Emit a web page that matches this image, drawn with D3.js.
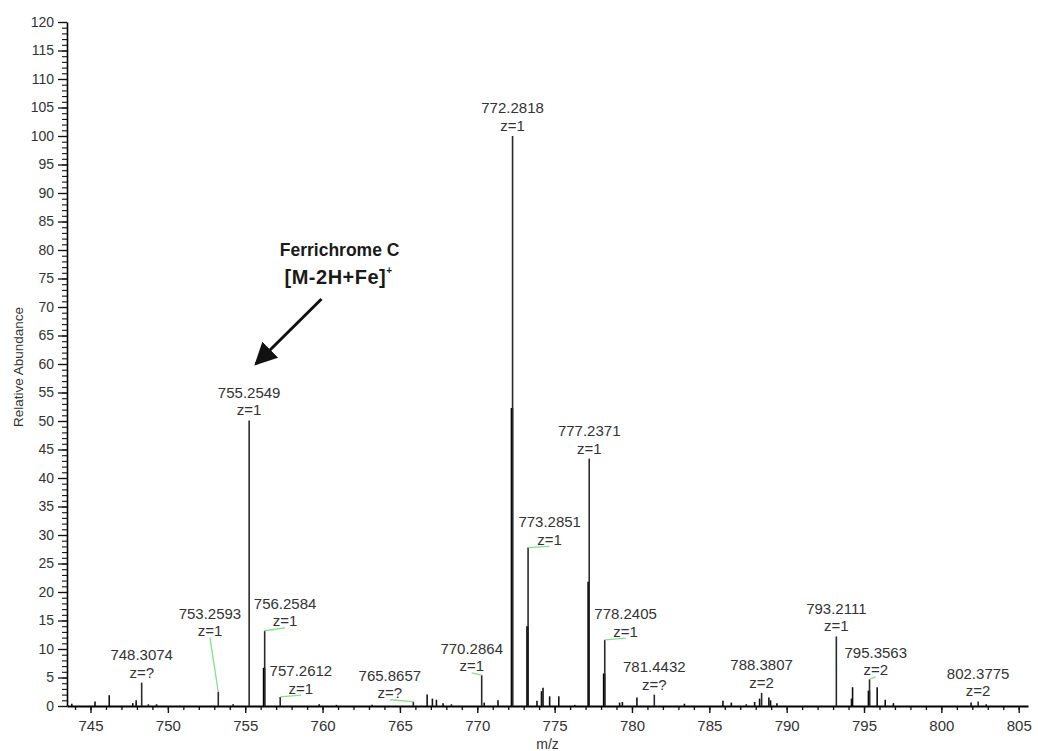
<!DOCTYPE html>
<html>
<head>
<meta charset="utf-8">
<script src="https://cdn.jsdelivr.net/npm/d3@7/dist/d3.min.js"></script>
<style>
  html, body { margin: 0; padding: 0; background: #fff; }
  svg { display: block; font-family: "Liberation Sans", Arial, sans-serif; }
</style>
</head>
<body>
<svg id="chart" width="1038" height="751"></svg>
<script>
// Annotated centroid peaks: m/z, relative abundance, charge label
const annMz = [748.3074, 753.2593, 755.2549, 756.2584, 757.2612, 765.8657, 770.2864, 772.2818,
               773.2851, 777.2371, 778.2405, 781.4432, 788.3807, 793.2111, 795.3563, 802.3775];
const annAb = [4.1, 2.5, 50.1, 13.2, 1.6, 0.75, 5.4, 100, 27.8, 43.4, 11.6, 2.0, 2.3, 12.2, 4.7, 0.8];
const annZ  = ["z=?", "z=1", "z=1", "z=1", "z=1", "z=?", "z=1", "z=1",
               "z=1", "z=1", "z=1", "z=?", "z=2", "z=1", "z=2", "z=2"];
// Second (half-height) trace drawn under some of the annotated peaks
const annShoulder = [0, 0, 0, 6.7, 0, 0, 0, 52.3, 14, 21.8, 5.7, 0, 0, 0, 2.7, 0];
// Labels moved off their peak (null = label sits right above the peak)
const labelMz = [null, 752.72, null, 757.58, 758.60, 764.35, 769.64, null,
                 774.68, null, 779.59, null, null, null, 795.76, null];
const labelAb = [null, 12.0, null, 13.7, 1.9, 1.1, 5.8, null,
                 28.0, null, 11.9, null, null, null, 5.1, null];

// Unlabelled minor peaks
const minorMz = [743.79, 745.29, 746.21, 747.73, 747.95, 748.74, 749.27, 754.22, 759.78, 760.90,
                 763.20, 766.76, 767.10, 767.36, 767.79, 768.33, 770.45, 771.34, 773.86, 774.15,
                 774.25, 774.68, 775.27, 776.30, 779.20, 779.38, 780.32, 783.39, 785.88, 786.42,
                 787.39, 787.93, 788.25, 788.85, 788.96, 789.37, 794.19, 794.26, 795.85, 796.37,
                 796.90, 801.92, 802.90];
const minorAb = [0.4, 0.8, 1.9, 0.5, 1.0, 0.3, 0.3, 0.3, 0.3, 0.2,
                 0.2, 2.0, 1.3, 1.1, 0.5, 0.3, 0.6, 1.0, 0.9, 2.6,
                 3.2, 1.7, 1.7, 0.2, 0.6, 0.7, 1.5, 0.4, 0.9, 0.6,
                 0.3, 0.7, 1.3, 1.5, 1.0, 0.5, 1.3, 3.3, 3.3, 1.1,
                 0.5, 0.6, 0.3];

// Axis ticks
const xMajorTicks = [745, 750, 755, 760, 765, 770, 775, 780, 785, 790, 795, 800, 805];
const yMajorTicks = [0, 5, 10, 15, 20, 25, 30, 35, 40, 45, 50, 55, 60, 65, 70, 75, 80, 85, 90, 95, 100, 105, 110, 115, 120];

// Compound callout
const calloutLines = ["Ferrichrome C", "[M-2H+Fe]"];
const calloutAt = [761.1, 78.9];       // m/z, abundance of first text line
const calloutArrow = [[759.93, 71.4], [755.69, 60.0]];

const svg = d3.select("#chart");
const x = d3.scaleLinear().domain([743.48, 805.6]).range([67, 1028]);
const y = d3.scaleLinear().domain([0, 120]).range([706, 22]);

svg.append("rect").attr("width", 1038).attr("height", 751).attr("fill", "#fff");

// ---- axes ----
const xMinor = d3.range(744, 806, 1);
const yMinor = d3.range(0, 121, 1);

svg.append("g").attr("transform", `translate(0,${y(0)})`)
  .call(d3.axisBottom(x).tickValues(xMinor).tickSize(4).tickFormat(""))
  .call(g => g.select(".domain").remove())
  .call(g => g.selectAll("line").attr("stroke", "#111").attr("stroke-width", 1.3));

const gx = svg.append("g").attr("transform", `translate(0,${y(0)})`)
  .call(d3.axisBottom(x).tickValues(xMajorTicks).tickSize(7).tickSizeOuter(0).tickPadding(7).tickFormat(d3.format("d")));
gx.select(".domain").attr("stroke", "#000").attr("stroke-width", 2.2);
gx.selectAll("line").attr("stroke", "#111").attr("stroke-width", 1.4);
gx.selectAll("text").attr("font-size", 15).attr("fill", "#333")
  .attr("font-family", "'Liberation Sans', Arial, sans-serif");

svg.append("g").attr("transform", `translate(${x.range()[0]},0)`)
  .call(d3.axisLeft(y).tickValues(yMinor).tickSize(5).tickFormat(""))
  .call(g => g.select(".domain").remove())
  .call(g => g.selectAll("line").attr("stroke", "#111").attr("stroke-width", 1.1));

const gy = svg.append("g").attr("transform", `translate(${x.range()[0]},0)`)
  .call(d3.axisLeft(y).tickValues(yMajorTicks).tickSize(9).tickSizeOuter(0).tickPadding(4).tickFormat(d3.format("d")));
gy.select(".domain").attr("stroke", "#000").attr("stroke-width", 1.6);
gy.selectAll("line").attr("stroke", "#111").attr("stroke-width", 1.3);
gy.selectAll("text").attr("font-size", 14).attr("fill", "#333")
  .attr("font-family", "'Liberation Sans', Arial, sans-serif");

// axis titles
svg.append("text")
  .attr("transform", `translate(23,${(y(0) + y(120)) / 2 + 3}) rotate(-90)`)
  .attr("text-anchor", "middle").attr("font-size", 13.5).attr("fill", "#333")
  .text("Relative Abundance");
svg.append("text")
  .attr("x", (x.range()[0] + x.range()[1]) / 2).attr("y", 749)
  .attr("text-anchor", "middle").attr("font-size", 14).attr("fill", "#333")
  .text("m/z");

// ---- peaks ----
const peaks = svg.append("g");
peaks.selectAll("line.minor").data(minorMz.map((m, i) => [m, minorAb[i]]))
  .join("line").attr("class", "minor")
  .attr("x1", d => x(d[0])).attr("x2", d => x(d[0]))
  .attr("y1", y(0)).attr("y2", d => y(d[1]))
  .attr("stroke", "#111").attr("stroke-width", 1.6);

const ann = annMz.map((m, i) => ({
  mz: m, ab: annAb[i], z: annZ[i], sh: annShoulder[i],
  lx: labelMz[i] == null ? x(m) : x(labelMz[i]),
  ly: labelAb[i] == null ? y(annAb[i]) - 3.5 : y(labelAb[i]),
  moved: labelMz[i] != null
}));

peaks.selectAll("line.sh").data(ann.filter(d => d.sh > 0))
  .join("line").attr("class", "sh")
  .attr("x1", d => x(d.mz) - 0.6).attr("x2", d => x(d.mz) - 0.6)
  .attr("y1", y(0)).attr("y2", d => y(d.sh))
  .attr("stroke", "#000").attr("stroke-width", 2.6);

peaks.selectAll("line.main").data(ann)
  .join("line").attr("class", "main")
  .attr("x1", d => x(d.mz)).attr("x2", d => x(d.mz))
  .attr("y1", y(0)).attr("y2", d => y(d.ab))
  .attr("stroke", "#2a2a2a").attr("stroke-width", 1.6);

// leader lines for labels that were moved off their peak
svg.append("g").selectAll("line").data(ann.filter(d => d.moved))
  .join("line")
  .attr("x1", d => d.lx).attr("y1", d => d.ly)
  .attr("x2", d => x(d.mz)).attr("y2", d => y(d.ab))
  .attr("stroke", "#86e086").attr("stroke-width", 1.3);

const labels = svg.append("g").attr("font-size", 15).attr("fill", "#333").attr("text-anchor", "middle");
labels.selectAll("text.mz").data(ann).join("text").attr("class", "mz")
  .attr("x", d => d.lx).attr("y", d => d.ly - 19.1)
  .text(d => d3.format(".4f")(d.mz));
labels.selectAll("text.z").data(ann).join("text").attr("class", "z")
  .attr("x", d => d.lx).attr("y", d => d.ly - 1.6)
  .text(d => d.z);

// ---- compound callout ----
const call = svg.append("g").attr("fill", "#1a1a1a").attr("font-weight", "bold").attr("text-anchor", "middle");
call.append("text").attr("x", x(calloutAt[0])).attr("y", y(calloutAt[1]))
  .attr("font-size", 17.5).text(calloutLines[0]);
const t2 = call.append("text").attr("x", x(calloutAt[0]) - 1).attr("y", y(calloutAt[1]) + 28)
  .attr("font-size", 20).attr("letter-spacing", 0.5);
t2.append("tspan").text(calloutLines[1]);
t2.append("tspan").attr("font-size", 10).attr("dy", -10).text("+");

svg.append("defs").append("marker")
  .attr("id", "head").attr("viewBox", "0 0 10 10").attr("refX", 9).attr("refY", 5)
  .attr("markerWidth", 7.5).attr("markerHeight", 7.5).attr("markerUnits", "strokeWidth")
  .attr("orient", "auto")
  .append("path").attr("d", "M0,0 L10,5 L0,10 Z").attr("fill", "#111");
svg.append("line")
  .attr("x1", x(calloutArrow[0][0])).attr("y1", y(calloutArrow[0][1]))
  .attr("x2", x(calloutArrow[1][0])).attr("y2", y(calloutArrow[1][1]))
  .attr("stroke", "#111").attr("stroke-width", 3)
  .attr("marker-end", "url(#head)");
</script>
</body>
</html>
